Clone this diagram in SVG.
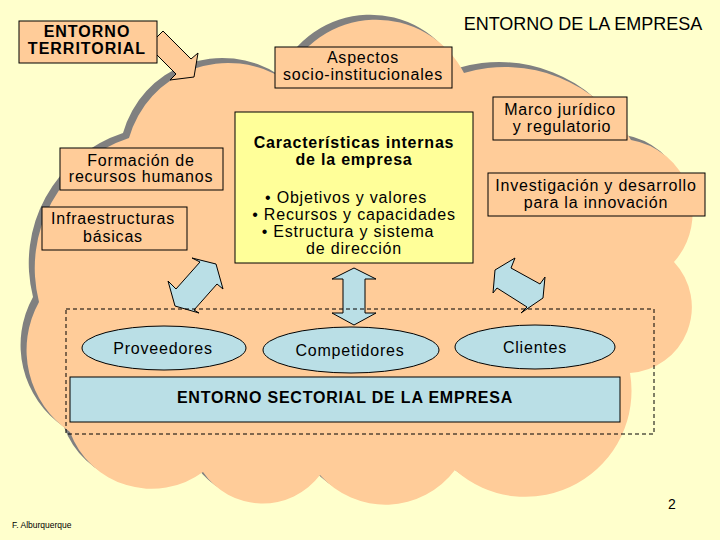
<svg xmlns="http://www.w3.org/2000/svg" width="720" height="540" viewBox="0 0 720 540">
<defs>
<style>
text{font-family:"Liberation Sans",Arial,sans-serif;fill:#000;text-anchor:middle;font-size:16px;letter-spacing:0.8px}
.b{font-weight:bold}
.box{fill:#FFCC99;stroke:#000;stroke-width:1}
.blue{fill:#BADFE6;stroke:#000;stroke-width:1}
.arr{fill:#BADFE6;stroke:#000;stroke-width:1;stroke-linejoin:miter}
</style>
<path id="cloudShape" d="M285,80 A99,99 0 0 1 464,73 A145,145 0 0 1 631,140 A74,74 0 0 1 674,262 A66,66 0 0 1 630,373 A106,106 0 0 1 455,470 A87,87 0 0 1 320,475 A72,72 0 0 1 203,472 A87,87 0 0 1 70,432 A99,99 0 0 1 39,302 A137,137 0 0 1 129,138 A103,103 0 0 1 285,80 Z"/>
</defs>
<rect width="720" height="540" fill="#FFFFCC"/>
<g id="cloud">
<use href="#cloudShape" fill="#808080" transform="translate(-6,-5)"/>
<use href="#cloudShape" fill="#FFCC99"/>
</g>
<g id="connectors">
<polygon class="box" points="163,31 191,59 198,53 194,77 170,80 176,74 148,46"/>
<polygon class="arr" points="192,258 216,264 223,289 217,284 194,310 199,313 175,306 168,281 176,289 200,262"/>
<polygon class="arr" points="354,268 376,279 365,279 365,313 376,313 354,325 332,313 343,313 343,279 332,279"/>
<polygon class="arr" points="515,258 495,270 493,293 497,288 527,307 521,313 543,298 545,277 540,284 511,268"/>
</g>
<g id="territorial">
<rect class="box" x="19" y="21" width="138" height="42"/>
<text class="b" x="87" y="37" style="letter-spacing:1px">ENTORNO</text>
<text class="b" x="87" y="54" style="letter-spacing:1px">TERRITORIAL</text>
</g>
<g id="titulo">
<text x="583" y="30" style="font-size:18px;letter-spacing:0">ENTORNO DE LA EMPRESA</text>
</g>
<g id="aspectos">
<rect class="box" x="275" y="47" width="177" height="41"/>
<text x="363" y="63">Aspectos</text>
<text x="363" y="80">socio-institucionales</text>
</g>
<g id="caracteristicas">
<rect x="235" y="112" width="238" height="151" fill="#FFFF99" stroke="#000"/>
<text class="b" x="354" y="148">Características internas</text>
<text class="b" x="354" y="165">de la empresa</text>
<text x="346" y="203">• Objetivos y valores</text>
<text x="354" y="220">• Recursos y capacidades</text>
<text x="348" y="237">•  Estructura y sistema</text>
<text x="354" y="254">de dirección</text>
</g>
<g id="marco">
<rect class="box" x="493" y="97" width="134" height="43"/>
<text x="560" y="115">Marco jurídico</text>
<text x="562" y="132">y regulatorio</text>
</g>
<g id="investigacion">
<rect class="box" x="488" y="173" width="217" height="43"/>
<text x="596" y="191">Investigación y desarrollo</text>
<text x="596" y="208">para la innovación</text>
</g>
<g id="formacion">
<rect class="box" x="60" y="148" width="163" height="42"/>
<text x="141" y="166">Formación de</text>
<text x="141" y="182">recursos humanos</text>
</g>
<g id="infraestructuras">
<rect class="box" x="42" y="207" width="145" height="43"/>
<text x="113" y="224">Infraestructuras</text>
<text x="113" y="242">básicas</text>
</g>
<g id="sectorial">
<rect x="66" y="309" width="588" height="125" fill="none" stroke="#000" stroke-dasharray="4,3"/>
<rect class="blue" x="70" y="377" width="550" height="45"/>
<text class="b" x="345" y="403">ENTORNO SECTORIAL DE LA EMPRESA</text>
</g>
<g id="proveedores">
<ellipse class="blue" cx="164" cy="348" rx="82" ry="22"/>
<text x="163" y="354">Proveedores</text>
</g>
<g id="competidores">
<ellipse class="blue" cx="351" cy="350" rx="88" ry="23"/>
<text x="350" y="356">Competidores</text>
</g>
<g id="clientes">
<ellipse class="blue" cx="535" cy="347" rx="80" ry="22"/>
<text x="535" y="353">Clientes</text>
</g>
<g id="footer">
<text x="672" y="509" style="font-size:14px;letter-spacing:0">2</text>
<text x="12" y="528" style="font-size:8.5px;letter-spacing:0;text-anchor:start">F. Alburquerque</text>
</g>
</svg>
